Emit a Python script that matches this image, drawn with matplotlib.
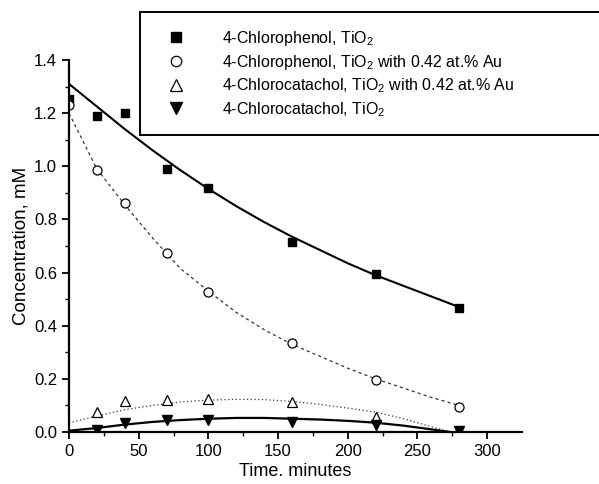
#!/usr/bin/env python3

import matplotlib
matplotlib.use("Agg")
import matplotlib.pyplot as plt
from matplotlib.lines import Line2D

# measured points (time in minutes, concentration in mM)
t_cp = [0, 20, 40, 70, 100, 160, 220, 280]
cp_tio2 = [1.255, 1.19, 1.20, 0.99, 0.92, 0.715, 0.595, 0.465]
cp_au = [1.23, 0.985, 0.862, 0.675, 0.527, 0.336, 0.196, 0.093]

t_cc = [20, 40, 70, 100, 160, 220]
cc_au = [0.076, 0.118, 0.12, 0.124, 0.112, 0.058]

t_cc2 = [20, 40, 70, 100, 160, 220, 280]
cc_tio2 = [0.008, 0.035, 0.045, 0.045, 0.038, 0.026, 0.003]

# fitted curves
t_fit = [0, 20, 40, 60, 80, 100, 120, 140, 160, 180, 200, 220, 240, 260, 280]
fit_cp_tio2 = [1.31, 1.225, 1.14, 1.06, 0.985, 0.915, 0.85, 0.79, 0.735,
               0.685, 0.635, 0.59, 0.55, 0.51, 0.47]
fit_cp_au = [1.20, 0.99, 0.855, 0.73, 0.615, 0.53, 0.45, 0.385, 0.33,
             0.285, 0.24, 0.2, 0.165, 0.13, 0.1]
fit_cc_au = [0.035, 0.06, 0.084, 0.1, 0.113, 0.12, 0.123, 0.122, 0.115,
             0.104, 0.09, 0.075, 0.05, 0.02, -0.01]
fit_cc_tio2 = [0.005, 0.015, 0.028, 0.038, 0.045, 0.05, 0.053, 0.053, 0.05,
               0.047, 0.042, 0.035, 0.024, 0.01, -0.005]

labels = ["4-Chlorophenol, TiO$_2$",
          "4-Chlorophenol, TiO$_2$ with 0.42 at.% Au",
          "4-Chlorocatachol, TiO$_2$ with 0.42 at.% Au",
          "4-Chlorocatachol, TiO$_2$"]


def _main():
    plt.rcParams["font.family"] = ["Liberation Sans", "DejaVu Sans"]
    plt.rcParams["mathtext.fontset"] = "custom"
    plt.rcParams["mathtext.rm"] = "Liberation Sans"
    plt.rcParams["mathtext.it"] = "Liberation Sans:italic"

    fig = plt.figure(figsize=(5.99, 4.84), dpi=100)
    ax = fig.add_axes([0.1152, 0.1074, 0.7563, 0.7686])

    ax.plot(t_fit, fit_cp_tio2, color="black", lw=1.5)
    ax.plot(t_fit, fit_cp_au, color="#333333", lw=0.9, ls=(0, (2.5, 2.5)))
    ax.plot(t_fit, fit_cc_au, color="#333333", lw=0.9, ls=(0, (1, 2)))
    ax.plot(t_fit, fit_cc_tio2, color="black", lw=1.6)

    ax.plot(t_cp, cp_tio2, "s", color="black", ms=6)
    ax.plot(t_cp, cp_au, "o", mfc="white", mec="black", ms=6.5, mew=0.9)
    ax.plot(t_cc, cc_au, "^", mfc="white", mec="black", ms=7, mew=0.9)
    ax.plot(t_cc2, cc_tio2, "v", color="black", ms=7)

    ax.set_xlim(0, 325)
    ax.set_ylim(0, 1.4)
    ax.set_xticks([0, 50, 100, 150, 200, 250, 300])
    ax.set_xticks(range(25, 325, 50), minor=True)
    ax.set_yticks([0.0, 0.2, 0.4, 0.6, 0.8, 1.0, 1.2, 1.4])
    ax.set_yticks([0.1, 0.3, 0.5, 0.7, 0.9, 1.1, 1.3], minor=True)
    ax.yaxis.set_major_formatter(plt.FormatStrFormatter("%.1f"))
    ax.spines["top"].set_visible(False)
    ax.spines["right"].set_visible(False)
    ax.spines["left"].set_linewidth(1.6)
    ax.spines["bottom"].set_linewidth(1.6)
    ax.tick_params(which="major", direction="out", length=5, width=1.3,
                   labelsize=12)
    ax.tick_params(which="minor", direction="out", length=3, width=1.0)

    ax.set_xlabel("Time. minutes", fontsize=13, labelpad=3)
    ax.set_ylabel("Concentration, mM", fontsize=13.5, labelpad=3)

    handles = [
        Line2D([], [], ls="none", marker="s", color="black", ms=6.5),
        Line2D([], [], ls="none", marker="o", mfc="white", mec="black", ms=7.5, mew=0.9),
        Line2D([], [], ls="none", marker="^", mfc="white", mec="black", ms=8.5, mew=0.9),
        Line2D([], [], ls="none", marker="v", color="black", ms=8.5),
    ]
    leg = fig.legend(handles, labels, loc="upper left",
                     bbox_to_anchor=(0.234, 0.721, 0.9, 0.254),
                     mode="expand", fancybox=False, framealpha=1,
                     fontsize=11.5, labelspacing=0.3, handletextpad=1.7,
                     handlelength=2.4, borderpad=1.05, borderaxespad=0)
    leg.get_frame().set_edgecolor("black")
    leg.get_frame().set_linewidth(1.4)

    fig.savefig("out.png", dpi=100)


if __name__ == '__main__':
    _main()
